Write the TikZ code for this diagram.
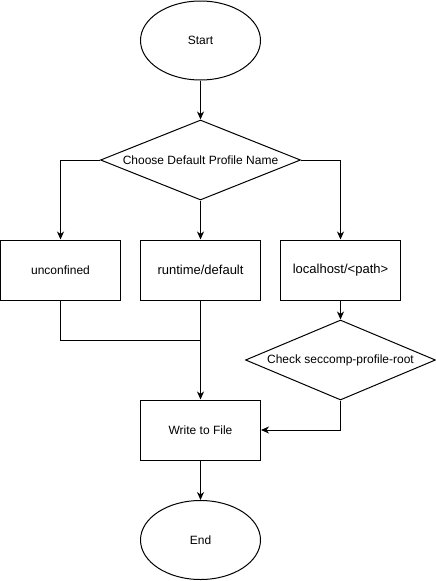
\documentclass[tikz,border=0pt]{standalone}
\usepackage{fontspec}
\setmainfont{Liberation Sans}
\usetikzlibrary{shapes.geometric,arrows.meta}
\begin{document}
\begin{tikzpicture}[x=1pt, y=-1pt, line width=1pt,
  every node/.style={draw, inner sep=0pt, font=\fontsize{12}{14}\selectfont},
  term/.style={ellipse, minimum width=120, minimum height=79},
  choice/.style={diamond, aspect=2.5, minimum height=80},
  stepbox/.style={rectangle, minimum width=120, minimum height=60},
  big/.style={font=\fontsize{13}{15}\selectfont},
  arr/.style={-{Stealth[length=8pt, width=7pt, inset=2.5pt]}}]
\useasboundingbox (0,0) rectangle (436,581);
% shapes
\node[term] (start) at (200.5,40.5) {Start};
\node[choice, minimum width=200] (choose) at (200.5,160) {Choose Default Profile Name};
\node[stepbox] (unconf) at (60.5,270) {unconfined};
\node[stepbox, big] (runtime) at (200.5,270) {runtime/default};
\node[stepbox, big] (local) at (340.5,270) {localhost/<path>};
\node[choice, minimum width=190] (check) at (340.5,360) {Check seccomp-profile-root};
\node[stepbox] (write) at (200.5,430) {Write to File};
\node[term] (stop) at (200.5,540) {End};
\coordinate (join) at (200.5,340);
% connectors
\draw[arr] (start) -- (choose);
\draw[arr] (choose.west) -| (unconf);
\draw[arr] (choose) -- (runtime);
\draw[arr] (choose.east) -| (local);
\draw[arr] (local) -- (check);
\draw (unconf.south) |- (join);
\draw[arr] (runtime) -- (write);
\draw[arr] (check.south) |- (write.east);
\draw[arr] (write) -- (stop);
\end{tikzpicture}
\end{document}
